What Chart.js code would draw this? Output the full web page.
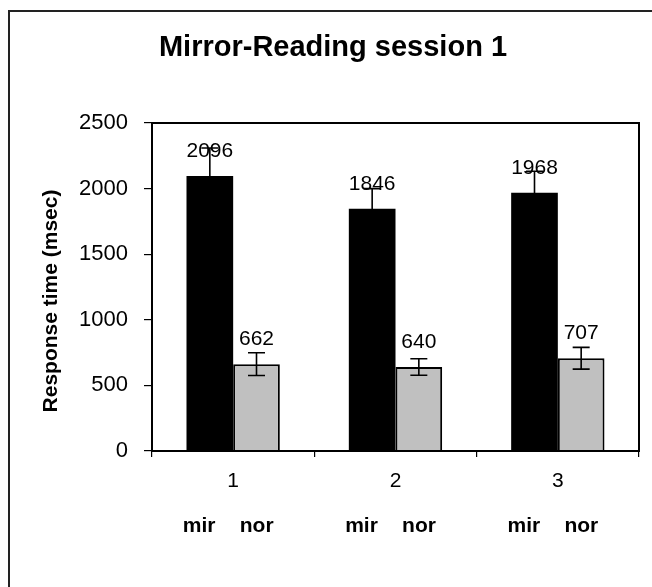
<!DOCTYPE html>
<html>
<head>
<meta charset="utf-8">
<script src="https://cdn.jsdelivr.net/npm/chart.js@4/dist/chart.umd.min.js"></script>
<style>
  html, body { margin: 0; padding: 0; background: #fff; }
  #wrap { width: 652px; height: 587px; }
</style>
</head>
<body>
<div id="wrap"><canvas id="rt" width="652" height="587"></canvas></div>
<script>
const categories = ['1', '2', '3'];
const conditions = ['mir', 'nor'];
const mirValues = [2096, 1846, 1968];
const norValues = [662, 640, 707];
const mirErrors = [213, 154, 164];
const norErrors = [87, 63, 83];
const yTicks = [0, 500, 1000, 1500, 2000, 2500];

const FONT = '"Liberation Sans", Arial, sans-serif';
const errors = [mirErrors, norErrors];

// frame, titles, value labels, error bars and the mir/nor captions
const extras = {
    id: 'extras',
    afterDatasetsDraw(chart) {
        const ctx = chart.ctx;
        const yScale = chart.scales.y;
        const area = chart.chartArea;

        // box around the plot area
        ctx.save();
        ctx.strokeStyle = '#000';
        ctx.lineWidth = 2;
        ctx.strokeRect(area.left, area.top, area.right - area.left, area.bottom - area.top);
        ctx.restore();

        chart.data.datasets.forEach((ds, di) => {
            const meta = chart.getDatasetMeta(di);
            meta.data.forEach((bar, i) => {
                const v = ds.data[i];
                const yv = yScale.getPixelForValue(v);

                ctx.save();
                ctx.fillStyle = '#000';
                ctx.font = '21px ' + FONT;
                ctx.textAlign = 'center';
                ctx.textBaseline = 'alphabetic';
                ctx.fillText(String(v), bar.x, yv - 19);
                ctx.restore();

                const e = errors[di][i];
                const hi = yScale.getPixelForValue(v + e);
                const lo = yScale.getPixelForValue(v - e);
                ctx.save();
                ctx.strokeStyle = '#000';
                ctx.lineWidth = 1.6;
                ctx.beginPath();
                ctx.moveTo(bar.x, lo);
                ctx.lineTo(bar.x, hi);
                ctx.moveTo(bar.x - 8.5, hi);
                ctx.lineTo(bar.x + 8.5, hi);
                ctx.moveTo(bar.x - 8.5, lo);
                ctx.lineTo(bar.x + 8.5, lo);
                ctx.stroke();
                ctx.restore();
            });
        });
    },
    afterDraw(chart) {
        const ctx = chart.ctx;
        const xScale = chart.scales.x;
        ctx.save();

        // outer frame (left and top edges)
        ctx.strokeStyle = '#222';
        ctx.lineWidth = 2;
        ctx.beginPath();
        ctx.moveTo(9, 600);
        ctx.lineTo(9, 11);
        ctx.lineTo(660, 11);
        ctx.stroke();

        ctx.fillStyle = '#000';
        ctx.textAlign = 'center';
        ctx.textBaseline = 'middle';

        ctx.font = 'bold 29px ' + FONT;
        ctx.fillText('Mirror-Reading session 1', 333, 48);

        ctx.save();
        ctx.translate(51, 301);
        ctx.rotate(-Math.PI / 2);
        ctx.font = 'bold 21px ' + FONT;
        ctx.fillText('Response time (msec)', 0, 0);
        ctx.restore();

        ctx.font = 'bold 21px ' + FONT;
        categories.forEach((c, i) => {
            const cx = xScale.getPixelForValue(i);
            ctx.fillText(conditions[0], cx - 34, 526);
            ctx.fillText(conditions[1], cx + 23.5, 526);
        });
        ctx.restore();
    }
};

new Chart(document.getElementById('rt'), {
    type: 'bar',
    data: {
        labels: categories,
        datasets: [
            {
                label: 'mir',
                data: mirValues,
                backgroundColor: '#000000',
                borderColor: '#000000',
                borderWidth: 0,
                barPercentage: 1.0,
                categoryPercentage: 0.575
            },
            {
                label: 'nor',
                data: norValues,
                backgroundColor: '#c0c0c0',
                borderColor: '#000000',
                borderWidth: 2,
                barPercentage: 1.0,
                categoryPercentage: 0.575
            }
        ]
    },
    options: {
        responsive: false,
        animation: false,
        devicePixelRatio: 1,
        layout: { padding: { left: 0, top: 123, right: 13, bottom: 0 } },
        plugins: {
            legend: { display: false },
            title: { display: false },
            tooltip: { enabled: false }
        },
        scales: {
            x: {
                grid: {
                    offset: true,
                    drawOnChartArea: false,
                    color: '#000',
                    lineWidth: 1.2,
                    tickLength: 6
                },
                border: { color: '#000', width: 2 },
                ticks: {
                    color: '#000',
                    font: { family: FONT, size: 21 },
                    padding: 12,
                    maxRotation: 0
                },
                afterFit(scale) { scale.height = 136; }
            },
            y: {
                min: 0,
                max: 2500,
                afterBuildTicks(scale) { scale.ticks = yTicks.map(v => ({ value: v })); },
                grid: {
                    drawOnChartArea: false,
                    color: '#000',
                    lineWidth: 1.2,
                    tickLength: 8
                },
                border: { color: '#000', width: 2 },
                ticks: {
                    color: '#000',
                    font: { family: FONT, size: 22 },
                    padding: 16,
                    callback: v => String(v)
                },
                afterFit(scale) { scale.width = 152; }
            }
        }
    },
    plugins: [extras]
});
</script>
</body>
</html>
